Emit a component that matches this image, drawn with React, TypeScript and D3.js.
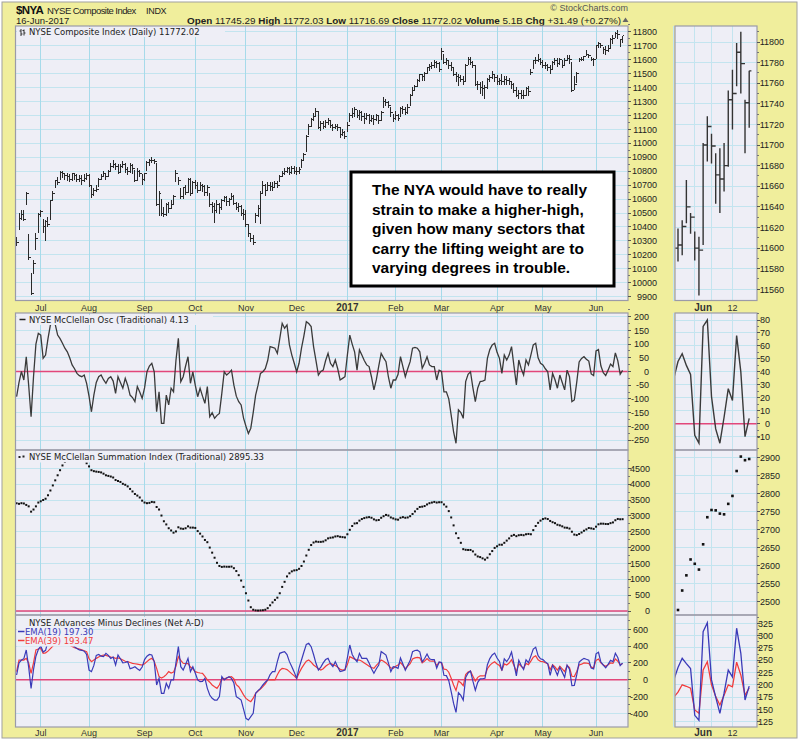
import React from "react";
import * as d3 from "d3";

// ---------- calendar ----------
const startDay = "2016-06-17";
const endDay = "2017-06-16";
const holidays = ["2016-07-04", "2016-09-05", "2016-11-24", "2016-12-26", "2017-01-02", "2017-01-16", "2017-02-20", "2017-04-14", "2017-05-29"];
const monthLabels = ["Jul", "Aug", "Sep", "Oct", "Nov", "Dec", "2017", "Feb", "Mar", "Apr", "May", "Jun"];
const boldMonthLabels = ["2017"];
const sideDateLabels = [
  { date: "2017-06-01", text: "Jun", bold: true },
  { date: "2017-06-12", text: "12", bold: false },
];

// ---------- price (NYSE Composite daily) ----------
const closes = [
  10290, 10460, 10490, 10450, 10640, 10180, 9920, 10140, 10320, 10490,
  10510, 10400, 10440, 10420, 10590, 10640, 10730, 10720, 10790, 10780,
  10770, 10760, 10740, 10780, 10770, 10740, 10750, 10730, 10750, 10770,
  10700, 10630, 10660, 10670, 10740, 10760, 10780, 10760, 10800, 10830,
  10850, 10830, 10790, 10830, 10850, 10810, 10800, 10840, 10820, 10730,
  10800, 10780, 10740, 10780, 10860, 10880, 10880, 10870, 10560, 10640,
  10500, 10490, 10560, 10530, 10560, 10620, 10780, 10730, 10620, 10680,
  10650, 10740, 10640, 10720, 10700, 10660, 10700, 10690, 10650, 10680,
  10560, 10550, 10520, 10560, 10540, 10590, 10610, 10580, 10600, 10620,
  10570, 10540, 10550, 10500, 10490, 10420, 10350, 10320, 10290, 10480,
  10530, 10640, 10700, 10660, 10700, 10690, 10680, 10710, 10700, 10760,
  10780, 10800, 10820, 10790, 10820, 10800, 10800, 10810, 10880, 10920,
  11050, 11120, 11170, 11190, 11230, 11110, 11140, 11120, 11150, 11160,
  11130, 11110, 11120, 11110, 11060, 11080, 11050, 11130, 11200, 11210,
  11240, 11200, 11220, 11190, 11180, 11200, 11160, 11180, 11170, 11200,
  11160, 11220, 11300, 11290, 11270, 11220, 11180, 11200, 11180, 11250,
  11240, 11220, 11260, 11340, 11380, 11410, 11450, 11490, 11480, 11500,
  11540, 11550, 11560, 11580, 11570, 11530, 11660, 11580, 11590, 11560,
  11540, 11490, 11480, 11470, 11460, 11440, 11560, 11600, 11580, 11560,
  11420, 11420, 11400, 11390, 11400, 11460, 11470, 11490, 11470, 11440,
  11450, 11440, 11460, 11450, 11440, 11420, 11380, 11340, 11360, 11340,
  11340, 11390, 11370, 11510, 11590, 11590, 11600, 11580, 11560, 11560,
  11540, 11530, 11580, 11590, 11570, 11600, 11560, 11590, 11610, 11600,
  11380, 11420, 11500, 11600, 11603, 11621, 11640, 11630, 11600, 11598,
  11700, 11718, 11699, 11671, 11667, 11680, 11744, 11750, 11790, 11779,
  11741, 11772.02,
];
const highs = [
  10330, 10500, 10520, 10520, 10650, 10350, 10070, 10165, 10355, 10500,
  10525, 10455, 10450, 10470, 10595, 10660, 10740, 10760, 10800, 10800,
  10790, 10790, 10780, 10790, 10790, 10780, 10770, 10770, 10780, 10790,
  10780, 10700, 10680, 10700, 10750, 10780, 10800, 10790, 10810, 10860,
  10880, 10860, 10850, 10850, 10870, 10860, 10830, 10860, 10850, 10810,
  10820, 10810, 10780, 10790, 10870, 10890, 10900, 10890, 10860, 10660,
  10600, 10540, 10570, 10580, 10590, 10630, 10810, 10760, 10680, 10690,
  10700, 10750, 10750, 10730, 10740, 10720, 10720, 10710, 10700, 10700,
  10640, 10580, 10570, 10590, 10570, 10600, 10620, 10620, 10610, 10640,
  10630, 10580, 10570, 10560, 10530, 10520, 10420, 10360, 10340, 10500,
  10560, 10660, 10730, 10710, 10720, 10720, 10720, 10730, 10730, 10770,
  10800, 10820, 10830, 10830, 10840, 10840, 10830, 10830, 10890, 10930,
  11060, 11140, 11180, 11220, 11250, 11230, 11160, 11160, 11170, 11180,
  11170, 11140, 11140, 11140, 11120, 11100, 11090, 11150, 11220, 11250,
  11260, 11240, 11240, 11230, 11220, 11220, 11210, 11200, 11200, 11210,
  11200, 11230, 11330, 11320, 11300, 11260, 11210, 11230, 11210, 11260,
  11270, 11260, 11280, 11350, 11400, 11420, 11460, 11500, 11500, 11510,
  11550, 11570, 11580, 11600, 11590, 11580, 11680, 11640, 11610, 11600,
  11580, 11550, 11510, 11500, 11490, 11480, 11570, 11620, 11620, 11590,
  11560, 11450, 11440, 11450, 11420, 11470, 11490, 11520, 11500, 11490,
  11470, 11500, 11480, 11480, 11470, 11450, 11430, 11400, 11380, 11380,
  11380, 11400, 11410, 11530, 11600, 11620, 11640, 11610, 11600, 11580,
  11570, 11560, 11590, 11610, 11610, 11610, 11600, 11610, 11630, 11630,
  11580, 11480, 11510, 11615, 11619, 11627, 11666, 11634, 11616, 11611,
  11702, 11728, 11711, 11692, 11697, 11702, 11753, 11773, 11799, 11810,
  11744, 11772.03,
];
const lows = [
  10260, 10380, 10450, 10440, 10560, 10160, 9910, 10060, 10235, 10360,
  10475, 10360, 10300, 10400, 10450, 10590, 10680, 10700, 10740, 10750,
  10740, 10730, 10720, 10730, 10740, 10720, 10720, 10700, 10720, 10740,
  10690, 10610, 10620, 10650, 10690, 10740, 10760, 10740, 10760, 10800,
  10820, 10810, 10780, 10790, 10820, 10790, 10770, 10790, 10780, 10720,
  10730, 10760, 10700, 10730, 10800, 10840, 10860, 10850, 10550, 10480,
  10480, 10470, 10480, 10500, 10530, 10560, 10720, 10700, 10600, 10600,
  10630, 10640, 10620, 10640, 10670, 10640, 10660, 10650, 10620, 10620,
  10540, 10500, 10430, 10500, 10490, 10520, 10580, 10550, 10550, 10590,
  10560, 10520, 10510, 10480, 10450, 10400, 10330, 10290, 10270, 10430,
  10470, 10420, 10640, 10620, 10660, 10660, 10660, 10680, 10680, 10720,
  10760, 10770, 10790, 10770, 10780, 10780, 10770, 10780, 10820, 10880,
  10940, 11060, 11120, 11160, 11190, 11100, 11090, 11100, 11110, 11130,
  11110, 11090, 11100, 11090, 11040, 11050, 11030, 11080, 11150, 11180,
  11190, 11180, 11170, 11160, 11140, 11170, 11140, 11150, 11130, 11160,
  11140, 11160, 11250, 11270, 11250, 11190, 11150, 11170, 11160, 11190,
  11210, 11200, 11210, 11270, 11340, 11380, 11400, 11440, 11450, 11450,
  11500, 11520, 11530, 11540, 11540, 11510, 11600, 11570, 11560, 11530,
  11520, 11480, 11440, 11410, 11440, 11420, 11450, 11560, 11560, 11540,
  11410, 11380, 11350, 11340, 11320, 11390, 11440, 11460, 11440, 11420,
  11420, 11420, 11420, 11420, 11420, 11390, 11360, 11330, 11320, 11320,
  11320, 11340, 11340, 11490, 11530, 11570, 11580, 11560, 11540, 11530,
  11520, 11500, 11530, 11560, 11550, 11560, 11540, 11560, 11590, 11570,
  11370, 11380, 11430, 11580, 11587, 11593, 11624, 11614, 11588, 11554,
  11603, 11684, 11682, 11643, 11634, 11655, 11679, 11715, 11757, 11750,
  11692, 11716.69,
];

// ---------- breadth ----------
const mcOsc = [
  -92, -40, 0, -31, 54, -50, -165, -20, 100, 139,
  133, 48, 60, 120, 170, 176, 172, 133, 120, 103,
  85, 72, 50, 24, 10, -7, -15, -19, -13, -43,
  -90, -147, -86, -40, -19, -13, -30, -43, -25, -19,
  -35, -80, -19, -40, -61, -25, -50, -86, -95, -110,
  -55, -75, -98, -60, -1, 20, 30, -1, -147, -74,
  -189, -189, -86, -122, -61, -74, 40, 121, -37, -19,
  20, 54, -43, -1, -50, -92, -61, -90, -116, -55,
  -165, -150, -171, -160, -153, -80, -1, -13, -5, 5,
  -50, -90, -110, -122, -170, -200, -226, -207, -150, -86,
  -50, -7, -1, 10, 40, 91, 88, 85, 66, 120,
  176, 158, 170, 97, 60, 30, -1, 30, 85, 130,
  182, 175, 164, 91, 40, -13, 0, 5, 40, 66,
  30, 18, 42, 10, -31, -25, -19, 60, 133, 100,
  72, 5, 79, 60, 40, 24, 18, -20, -67, -30,
  20, 66, 50, 36, -20, -61, -31, -31, -10, 54,
  18, -19, 10, 36, 85, 88, 85, 72, 12, 30,
  54, 24, 18, 18, -31, 5, 0, -74, -74, -100,
  -159, -220, -262, -140, -150, -171, -37, -10, -1, -60,
  -110, -60, -37, -35, -31, 48, 80, 97, 103, 70,
  48, -7, 60, 42, 60, 91, 20, -49, 42, 10,
  -13, 42, 24, 60, 97, 103, 50, 30, 24, 10,
  -1, -67, -7, -30, -61, -13, -40, -67, 5, -19,
  -110, -104, -40, 35, 48, 54, 45, 38, -9, -15,
  75, 80, 21, -4, -15, 5, 27, 18, 68, 40,
  -10, 4.13,
];
const mcSum = [
  3397, 3380, 3400, 3390, 3345, 3300, 3133, 3200, 3300, 3420,
  3460, 3500, 3540, 3650, 3800, 3960, 4120, 4280, 4440, 4590,
  4700, 4760, 4800, 4830, 4840, 4830, 4800, 4770, 4730, 4660,
  4560, 4440, 4410, 4395, 4385, 4370, 4330, 4280, 4260, 4240,
  4210, 4130, 4100, 4070, 4010, 3980, 3930, 3850, 3770, 3690,
  3640, 3580, 3480, 3420, 3400, 3410, 3440, 3430, 3280, 3200,
  3010, 2830, 2730, 2610, 2540, 2470, 2510, 2640, 2600, 2590,
  2610, 2670, 2630, 2630, 2620, 2520, 2440, 2350, 2240, 2170,
  2000, 1840, 1680, 1520, 1420, 1390, 1400, 1395, 1395, 1400,
  1350, 1260, 1130, 960, 760, 560, 330, 120, 40, 20,
  15, 20, 25, 40, 90, 180, 270, 350, 420, 560,
  760, 920, 1090, 1190, 1250, 1280, 1290, 1330, 1420, 1560,
  1750, 1930, 2080, 2160, 2190, 2180, 2180, 2190, 2230, 2290,
  2310, 2320, 2350, 2360, 2340, 2330, 2320, 2420, 2560, 2680,
  2760, 2770, 2850, 2900, 2930, 2950, 2960, 2940, 2890, 2860,
  2870, 2940, 2990, 3030, 3010, 2950, 2920, 2890, 2880, 2940,
  2960, 2940, 2950, 2990, 3060, 3140, 3220, 3280, 3290, 3310,
  3360, 3400, 3420, 3440, 3420, 3430, 3430, 3360, 3290, 3150,
  2950, 2700, 2450, 2300, 2150, 1950, 1930, 1925, 1925, 1880,
  1780, 1720, 1700, 1660, 1620, 1680, 1790, 1890, 1990, 2040,
  2090, 2090, 2150, 2220, 2290, 2370, 2400, 2360, 2390, 2400,
  2390, 2420, 2430, 2420, 2550, 2680, 2780, 2850, 2900, 2920,
  2900, 2840, 2800, 2770, 2720, 2700, 2670, 2630, 2625, 2600,
  2500, 2410, 2394, 2429, 2477, 2531, 2573, 2617, 2605, 2589,
  2659, 2734, 2754, 2753, 2744, 2742, 2771, 2793, 2862, 2902,
  2892, 2895.33,
];
const ema19 = [
  56, 200, 234, 250, 354, 150, -103, 120, 280, 360,
  400, 330, 350, 460, 540, 576, 592, 563, 560, 543,
  520, 497, 460, 419, 393, 370, 354, 350, 340, 300,
  115, 96, 170, 290, 300, 280, 274, 314, 290, 254,
  270, 175, 294, 250, 200, 205, 215, 130, 140, 155,
  130, 110, 150, 240, 280, 300, 294, 215, -63, 16,
  -162, -162, -43, -103, -3, -3, 200, 393, 155, 115,
  180, 254, 96, 155, 80, -3, -23, -20, 16, -103,
  -182, -222, -242, -242, -200, 36, -3, 20, 36, 16,
  -40, -202, -220, -242, -350, -460, -480, -440, -400, -162,
  -130, -103, -63, -30, -3, 60, 96, 96, 215, 314,
  325, 334, 300, 215, 155, 90, 16, 140, 234, 330,
  420, 433, 393, 300, 195, 115, 150, 200, 240, 254,
  190, 155, 215, 150, 96, 105, 115, 260, 413, 300,
  250, 215, 314, 254, 254, 254, 200, 130, 76, 130,
  175, 334, 314, 294, 200, 96, 155, 150, 135, 258,
  188, 112, 171, 227, 333, 348, 351, 332, 213, 252,
  305, 248, 238, 239, 138, 211, 204, 52, 48, -11,
  -141, -282, -389, -155, -187, -243, 25, 81, 102, -18,
  -126, -32, 10, 11, 16, 179, 251, 294, 317, 258,
  218, 108, 248, 216, 258, 329, 189, 46, 232, 169,
  122, 236, 203, 281, 364, 387, 286, 249, 239, 212,
  190, 51, 170, 121, 53, 148, 90, 29, 174, 124,
  -69, -67, 57, 210, 235, 254, 243, 233, 138, 128,
  308, 326, 210, 175, 142, 183, 230, 216, 315, 264,
  169, 197.3,
];
const ema39 = [
  96, 234, 234, 234, 254, 200, 76, 200, 354, 365,
  373, 314, 320, 340, 370, 400, 420, 430, 440, 440,
  435, 425, 410, 395, 380, 373, 365, 355, 345, 334,
  250, 215, 235, 254, 270, 285, 294, 290, 280, 270,
  265, 254, 260, 250, 235, 220, 215, 205, 195, 190,
  185, 180, 175, 190, 215, 240, 254, 220, 135, 36,
  20, 36, 60, 96, 80, 90, 160, 274, 230, 195,
  190, 195, 150, 130, 96, 86, 80, 76, 40, -3,
  -30, -63, -85, -103, -60, 16, 10, 20, 30, 36,
  10, -60, -83, -130, -180, -222, -245, -262, -220, -162,
  -135, -110, -83, -50, -3, -3, 0, -3, 60, 110,
  135, 130, 120, 96, 70, 45, 16, 80, 135, 180,
  220, 234, 210, 175, 155, 130, 115, 130, 160, 180,
  195, 180, 170, 150, 125, 115, 120, 180, 274, 260,
  245, 234, 234, 220, 200, 180, 160, 145, 135, 170,
  200, 234, 220, 200, 170, 140, 135, 160, 175, 204,
  170, 131, 161, 191, 248, 260, 266, 260, 201, 222,
  251, 224, 220, 221, 169, 206, 204, 126, 122, 89,
  18, -62, -127, -15, -37, -72, 62, 91, 103, 42,
  -16, 28, 47, 46, 47, 131, 171, 197, 214, 188,
  170, 115, 188, 174, 198, 238, 169, 95, 190, 159,
  135, 194, 179, 221, 267, 284, 236, 219, 215, 202,
  191, 118, 177, 151, 114, 161, 130, 96, 169, 143,
  41, 37, 97, 175, 185, 200, 197, 193, 149, 142,
  230, 247, 200, 176, 159, 179, 200, 196, 246, 220,
  179, 193.47,
];

// ---------- axis ticks ----------
const priceTicks = [9900, 10000, 10100, 10200, 10300, 10400, 10500, 10600, 10700, 10800, 10900, 11000, 11100, 11200, 11300, 11400, 11500, 11600, 11700, 11800];
const oscTicks = [-250, -200, -150, -100, -50, 0, 50, 100, 150, 200];
const sumTicks = [0, 500, 1000, 1500, 2000, 2500, 3000, 3500, 4000, 4500];
const adTicks = [-400, -200, 0, 200, 400, 600];
const sidePriceTicks = [11560, 11580, 11600, 11620, 11640, 11660, 11680, 11700, 11720, 11740, 11760, 11780, 11800];
const sideOscTicks = [-10, 0, 10, 20, 30, 40, 50, 60, 70, 80];
const sideSumTicks = [2500, 2550, 2600, 2650, 2700, 2750, 2800, 2850, 2900];
const sideAdTicks = [125, 150, 175, 200, 225, 250, 275, 300, 325];

const noteLines = [
  "The NYA would have to really",
  "strain to make a higher-high,",
  "given how many sectors that",
  "carry the lifting weight are to",
  "varying degrees in trouble.",
];

// ---------- style ----------
const YELLOW = "#F0EE9C";
const PANEL_BG = "#EEEEF6";
const HGRID = "#C3E4EF";
const VGRID = "#A6DAEA";
const BORDER = "#9B9BA8";
const ZERO = "#E2467A";
const AXF = "'Liberation Sans', Arial, sans-serif";
const LBF = "'DejaVu Sans', Verdana, sans-serif";

const MAIN = { l: 15.5, r: 628 };
const SIDE = { l: 675, r: 757 };

export default function App() {
  const fmt = d3.timeFormat("%Y-%m-%d");
  const parse = d3.timeParse("%Y-%m-%d");
  const hs = new Set(holidays);
  const days = d3.timeDay
    .range(parse(startDay) as Date, d3.timeDay.offset(parse(endDay) as Date, 1))
    .filter((d) => d.getDay() !== 0 && d.getDay() !== 6 && !hs.has(fmt(d)));
  const n = closes.length;
  const last = n - 1;

  const x = d3.scaleLinear().domain([0, last]).range([16.6, 622.6]);
  const sx = d3.scaleLinear().domain([last - 17, last]).range([678, 749.2]);
  const sideStart = last - 18;

  const monthIdx: number[] = [];
  days.forEach((d, i) => {
    if (i > 0 && d.getMonth() !== days[i - 1].getMonth()) monthIdx.push(i);
  });
  const weekIdx: number[] = [];
  days.forEach((d, i) => {
    if (i >= sideStart && i > 0 && d.getDay() <= days[i - 1].getDay()) weekIdx.push(i);
  });
  const dayIndex = (s: string) => days.findIndex((d) => fmt(d) === s);

  const panels = [
    { key: "price", top: 26, bot: 300.5, dom: [9900, 11800], rng: [296.7, 31.7], ticks: priceTicks, lx: 657, sdom: [11560, 11800], srng: [289.3, 42], sticks: sidePriceTicks, slx: 784, zero: false, szero: false },
    { key: "osc", top: 313, bot: 450, dom: [-250, 200], rng: [440, 316.7], ticks: oscTicks, lx: 649, sdom: [-10, 80], srng: [436.7, 320], sticks: sideOscTicks, slx: 770, zero: true, szero: true },
    { key: "sum", top: 450, bot: 615, dom: [0, 4500], rng: [611, 468.3], ticks: sumTicks, lx: 650, sdom: [2500, 2900], srng: [601.7, 457.3], sticks: sideSumTicks, slx: 780, zero: true, szero: false },
    { key: "ad", top: 615, bot: 727, dom: [-400, 600], rng: [713.3, 629.3], ticks: adTicks, lx: 648, sdom: [125, 325], srng: [721.7, 623.3], sticks: sideAdTicks, slx: 773, zero: true, szero: false },
  ].map((p) => ({
    ...p,
    y: d3.scaleLinear().domain(p.dom).range(p.rng),
    sy: d3.scaleLinear().domain(p.sdom).range(p.srng),
  }));
  const P = Object.fromEntries(panels.map((p) => [p.key, p])) as any;

  const ohlc = (xs: (i: number) => number, ys: (v: number) => number, idx: number[], tick: number) => {
    let d = "";
    for (const i of idx) {
      const xx = xs(i);
      const o = i > 0 ? closes[i - 1] : closes[i];
      d += `M${xx},${ys(highs[i])}V${ys(lows[i])}M${xx - tick},${ys(o)}H${xx}M${xx},${ys(closes[i])}H${xx + tick}`;
    }
    return d;
  };
  const allIdx = d3.range(n);
  const sideIdx = d3.range(sideStart, n);

  const lineOf = (arr: number[], xs: (i: number) => number, ys: (v: number) => number, idx: number[]) =>
    d3.line<number>().x((i) => xs(i)).y((i) => ys(arr[i]))(idx) || "";

  const renderFrame = (p: any, side: boolean) => {
    const b = side ? SIDE : MAIN;
    const ys = side ? p.sy : p.y;
    const ticks = side ? p.sticks : p.ticks;
    const vlines = side ? weekIdx : monthIdx;
    const xs = side ? sx : x;
    const junIdx = dayIndex("2017-06-01");
    return (
      <g key={p.key + (side ? "s" : "m")}>
        <rect x={b.l} y={p.top} width={b.r - b.l} height={p.bot - p.top} fill={PANEL_BG} />
        {ticks.map((t: number) => (
          <line key={t} x1={b.l} x2={b.r} y1={ys(t)} y2={ys(t)} stroke={HGRID} strokeWidth={1} shapeRendering="crispEdges" />
        ))}
        {vlines.map((i: number) => (
          <line key={"v" + i} x1={xs(i)} x2={xs(i)} y1={p.top} y2={p.bot} stroke={side && i !== junIdx ? HGRID : VGRID} strokeWidth={1} shapeRendering="crispEdges" />
        ))}
        {(side ? p.szero : p.zero) && (
          <line x1={b.l} x2={b.r} y1={ys(0)} y2={ys(0)} stroke={ZERO} strokeWidth={1.6} />
        )}
      </g>
    );
  };

  const renderAxis = (p: any, side: boolean) => {
    const b = side ? SIDE : MAIN;
    const ys = side ? p.sy : p.y;
    const ticks = side ? p.sticks : p.ticks;
    const lx = side ? p.slx : p.lx;
    const step = ticks[1] - ticks[0];
    return (
      <g key={"ax" + p.key + (side ? "s" : "m")}>
        {ticks.map((t: number) => (
          <g key={t}>
            <line x1={b.r} x2={b.r + 3} y1={ys(t)} y2={ys(t)} stroke="#555" strokeWidth={1} shapeRendering="crispEdges" />
            <line x1={b.r} x2={b.r + 2} y1={ys(t + step / 2)} y2={ys(t + step / 2)} stroke="#777" strokeWidth={1} shapeRendering="crispEdges" />
            <text x={lx} y={ys(t) + 3.2} textAnchor="end" fontFamily={AXF} fontSize={9} fill="#222">
              {t}
            </text>
          </g>
        ))}
      </g>
    );
  };

  const clip = (id: string, b: { l: number; r: number }, p: any) => (
    <clipPath id={id} key={id}>
      <rect x={b.l} y={p.top} width={b.r - b.l} height={p.bot - p.top} />
    </clipPath>
  );

  const dateRow = (y: number) => (
    <g>
      {monthIdx.map((i, k) => (
        <text key={i} x={x(i)} y={y} textAnchor="middle" fontFamily={AXF} fontSize={boldMonthLabels.includes(monthLabels[k]) ? 10 : 9} fontWeight={boldMonthLabels.includes(monthLabels[k]) ? "bold" : "normal"} fill="#333">
          {monthLabels[k]}
        </text>
      ))}
      {sideDateLabels.map((s) => (
        <text key={s.text} x={sx(dayIndex(s.date))} y={y} textAnchor="middle" fontFamily={AXF} fontSize={s.bold ? 10 : 9} fontWeight={s.bold ? "bold" : "normal"} fill="#333">
          {s.text}
        </text>
      ))}
    </g>
  );

  const pr = P.price, os = P.osc, su = P.sum, ad = P.ad;

  return (
    <svg width={800} height={741} style={{ position: "absolute", left: 0, top: 0, background: "#fff" }} fontFamily={AXF}>
      <defs>
        {panels.map((p) => clip("cm" + p.key, MAIN, p))}
        {panels.map((p) => clip("cs" + p.key, SIDE, p))}
      </defs>
      <rect x={2} y={2} width={795} height={736} fill={YELLOW} stroke="#A0A0A0" strokeWidth={1} />

      {/* header */}
      <text x={16} y={13.5} fontSize={11.5} fontWeight="bold" fill="#111" letterSpacing={-0.6}>$NYA</text>
      <text x={47} y={13.5} fontSize={9.5} fill="#222" letterSpacing={-0.55}>NYSE Composite Index</text>
      <text x={146} y={13.5} fontSize={9} fill="#222" letterSpacing={-0.3}>INDX</text>
      <text x={16} y={24} fontSize={9.5} fill="#222">16-Jun-2017</text>
      <text x={621} y={24} fontSize={9.9} textAnchor="end" fill="#222">
        <tspan fontWeight="bold">Open</tspan> 11745.29 <tspan fontWeight="bold">High</tspan> 11772.03 <tspan fontWeight="bold">Low</tspan> 11716.69 <tspan fontWeight="bold">Close</tspan> 11772.02 <tspan fontWeight="bold">Volume</tspan> 5.1B <tspan fontWeight="bold">Chg</tspan> +31.49 (+0.27%)
      </text>
      <path d="M622.5,22 L625.5,17.5 L628.5,22 Z" fill="#666" />
      <text x={628} y={11} fontSize={9} textAnchor="end" fill="#555">© StockCharts.com</text>

      {/* frames */}
      {panels.map((p) => renderFrame(p, false))}
      {panels.map((p) => renderFrame(p, true))}

      {/* price */}
      <g clipPath="url(#cmprice)">
        <path d={ohlc(x, pr.y, allIdx, 1.3)} stroke="#2a2a2a" strokeWidth={1} fill="none" shapeRendering="crispEdges" />
      </g>
      <g clipPath="url(#csprice)">
        <path d={ohlc(sx, pr.sy, sideIdx, 2.2)} stroke="#333" strokeWidth={1.4} fill="none" />
      </g>

      {/* McClellan oscillator */}
      <g clipPath="url(#cmosc)">
        <path d={lineOf(mcOsc, x, os.y, allIdx)} stroke="#3a3a3a" strokeWidth={1.3} fill="none" />
      </g>
      <g clipPath="url(#csosc)">
        <path d={lineOf(mcOsc, sx, os.sy, sideIdx)} stroke="#3a3a3a" strokeWidth={1.4} fill="none" />
      </g>

      {/* Summation index */}
      <g clipPath="url(#cmsum)">
        {allIdx.map((i) => (
          <rect key={i} x={x(i) - 1} y={su.y(mcSum[i]) - 1} width={2} height={2} fill="#111" />
        ))}
      </g>
      <g clipPath="url(#cssum)">
        {sideIdx.map((i) => (
          <rect key={i} x={sx(i) - 1.3} y={su.sy(mcSum[i]) - 1.3} width={2.6} height={2.6} fill="#111" />
        ))}
      </g>

      {/* Net A-D EMAs */}
      <g clipPath="url(#cmad)">
        <path d={lineOf(ema39, x, ad.y, allIdx)} stroke="#F23C3C" strokeWidth={1.2} fill="none" />
        <path d={lineOf(ema19, x, ad.y, allIdx)} stroke="#3A3AB8" strokeWidth={1.2} fill="none" />
      </g>
      <g clipPath="url(#csad)">
        <path d={lineOf(ema39, sx, ad.sy, sideIdx)} stroke="#F23C3C" strokeWidth={1.3} fill="none" />
        <path d={lineOf(ema19, sx, ad.sy, sideIdx)} stroke="#3A3AB8" strokeWidth={1.3} fill="none" />
      </g>

      {/* panel labels */}
      <g fontFamily={LBF} fontSize={8.5}>
        <rect x={17} y={27} width={208} height={10} fill={PANEL_BG} />
        <path d="M21,29V36M19.5,31H21M21,34H22.5M24,29.5V35.5M22.5,30.5H24M24,33H25.5" stroke="#333" strokeWidth={1} fill="none" />
        <text x={29} y={35} fill="#222">NYSE Composite Index (Daily) 11772.02</text>

        <rect x={17} y={315} width={196} height={10} fill={PANEL_BG} />
        <line x1={19.5} x2={25.5} y1={319.5} y2={319.5} stroke="#222" strokeWidth={1.5} />
        <text x={29} y={323} fill="#222">NYSE McClellan Osc (Traditional) 4.13</text>

        <rect x={17} y={451.5} width={279} height={11} fill={PANEL_BG} />
        <rect x={18.5} y={456} width={2} height={2} fill="#222" />
        <rect x={22.5} y={455.5} width={2} height={2} fill="#222" />
        <text x={29} y={460} fill="#222">NYSE McClellan Summation Index (Traditional) 2895.33</text>

        <rect x={27} y={617} width={196} height={10} fill={PANEL_BG} />
        <text x={29} y={625.5} fill="#222">NYSE Advances Minus Declines (Net A-D)</text>
        <rect x={17} y={627.5} width={70} height={19} fill={PANEL_BG} />
        <line x1={18} x2={24.5} y1={631.5} y2={631.5} stroke="#3A3AB8" strokeWidth={1.5} />
        <text x={25} y={635} fill="#3A3AB8">EMA(19) 197.30</text>
        <line x1={18} x2={24.5} y1={640.5} y2={640.5} stroke="#F23C3C" strokeWidth={1.5} />
        <text x={25} y={644} fill="#F23C3C">EMA(39) 193.47</text>
      </g>

      {/* borders */}
      {panels.map((p) => (
        <g key={"b" + p.key}>
          <rect x={MAIN.l} y={p.top} width={MAIN.r - MAIN.l} height={p.bot - p.top} fill="none" stroke={BORDER} strokeWidth={1.2} />
          <rect x={SIDE.l} y={p.top} width={SIDE.r - SIDE.l} height={p.bot - p.top} fill="none" stroke={BORDER} strokeWidth={1.2} />
        </g>
      ))}

      {/* axes */}
      {panels.map((p) => renderAxis(p, false))}
      {panels.map((p) => renderAxis(p, true))}

      {/* date rows */}
      {dateRow(310.5)}
      {dateRow(736)}

      {/* annotation */}
      <rect x={351} y={172} width={263} height={114} fill="#fff" stroke="#000" strokeWidth={3} />
      {noteLines.map((t, k) => (
        <text key={k} x={372} y={195 + k * 19.5} fontFamily={AXF} fontSize={15.5} fontWeight="bold" fill="#000">
          {t}
        </text>
      ))}
    </svg>
  );
}
